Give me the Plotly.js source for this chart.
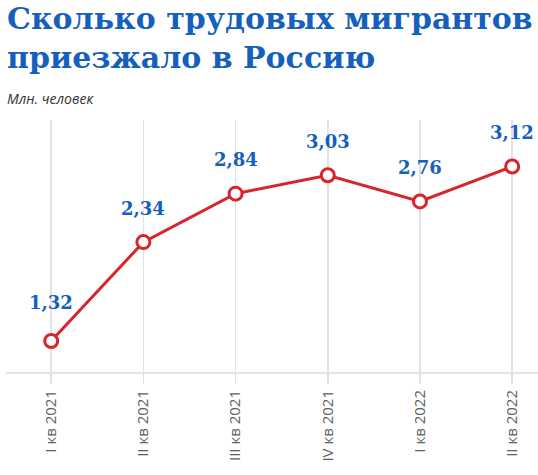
<!DOCTYPE html>
<html>
<head>
<meta charset="utf-8">
<script src="https://cdn.plot.ly/plotly-3.0.1.min.js"></script>
<style>
  html, body { margin: 0; padding: 0; background: #fff; }
  #chart { width: 538px; height: 475px; }
</style>
</head>
<body>
<div id="chart"></div>
<script>
// квартал и число трудовых мигрантов, млн человек
let quarters = ["I кв 2021", "II кв 2021", "III кв 2021", "IV кв 2021", "I кв 2022", "II кв 2022"];
let migrants = [1.32, 2.34, 2.84, 3.03, 2.76, 3.12];
let value_labels = ["1,32", "2,34", "2,84", "3,03", "2,76", "3,12"];

let blue = "#1560bd";
let red = "#d7262b";

let trace = {
    x: quarters,
    y: migrants,
    type: "scatter",
    mode: "lines+markers",
    line: { color: red, width: 3 },
    marker: { size: 13, color: "#ffffff", line: { color: red, width: 3 } },
    hoverinfo: "skip",
    cliponaxis: false
};

let annotations = [];
for (let i = 0; i < quarters.length; i++) {
    annotations.push({
        x: quarters[i],
        y: migrants[i],
        text: "<b>" + value_labels[i] + "</b>",
        showarrow: false,
        yshift: i == 0 ? 38 : 34,
        font: { family: "DejaVu Serif", size: 18, color: blue }
    });
}
// заголовок и подпись единиц
annotations.push({
    xref: "paper", yref: "paper",
    x: -0.002, y: 1.48,
    xanchor: "left", yanchor: "top", align: "left",
    text: "<b>Сколько трудовых мигрантов<br>приезжало в Россию</b>",
    showarrow: false,
    font: { family: "DejaVu Serif", size: 30, color: blue }
});
annotations.push({
    xref: "paper", yref: "paper",
    x: -0.002, y: 1.0, yshift: 22,
    xanchor: "left", yanchor: "middle",
    text: "<i>Млн. человек</i>",
    showarrow: false,
    font: { family: "Open Sans", size: 14, color: "#333333" }
});

let layout = {
    width: 538,
    height: 475,
    margin: { l: 6, r: 0, t: 120, b: 103 },
    paper_bgcolor: "#ffffff",
    plot_bgcolor: "#ffffff",
    showlegend: false,
    xaxis: {
        type: "category",
        range: [-0.49, 5.28],
        showgrid: true,
        gridcolor: "#e3e3e3",
        gridwidth: 1.5,
        showline: true,
        linecolor: "#e3e3e3",
        linewidth: 2,
        ticks: "outside",
        ticklen: 10,
        tickcolor: "#e3e3e3",
        tickwidth: 1.5,
        tickangle: -90,
        tickfont: { family: "Open Sans", size: 15, color: "#606060" },
        zeroline: false,
        fixedrange: true
    },
    yaxis: {
        range: [1.0, 3.6],
        showgrid: false,
        showticklabels: false,
        showline: false,
        zeroline: false,
        fixedrange: true
    },
    annotations: annotations
};

Plotly.newPlot("chart", [trace], layout, { displayModeBar: false, staticPlot: true });
</script>
</body>
</html>
